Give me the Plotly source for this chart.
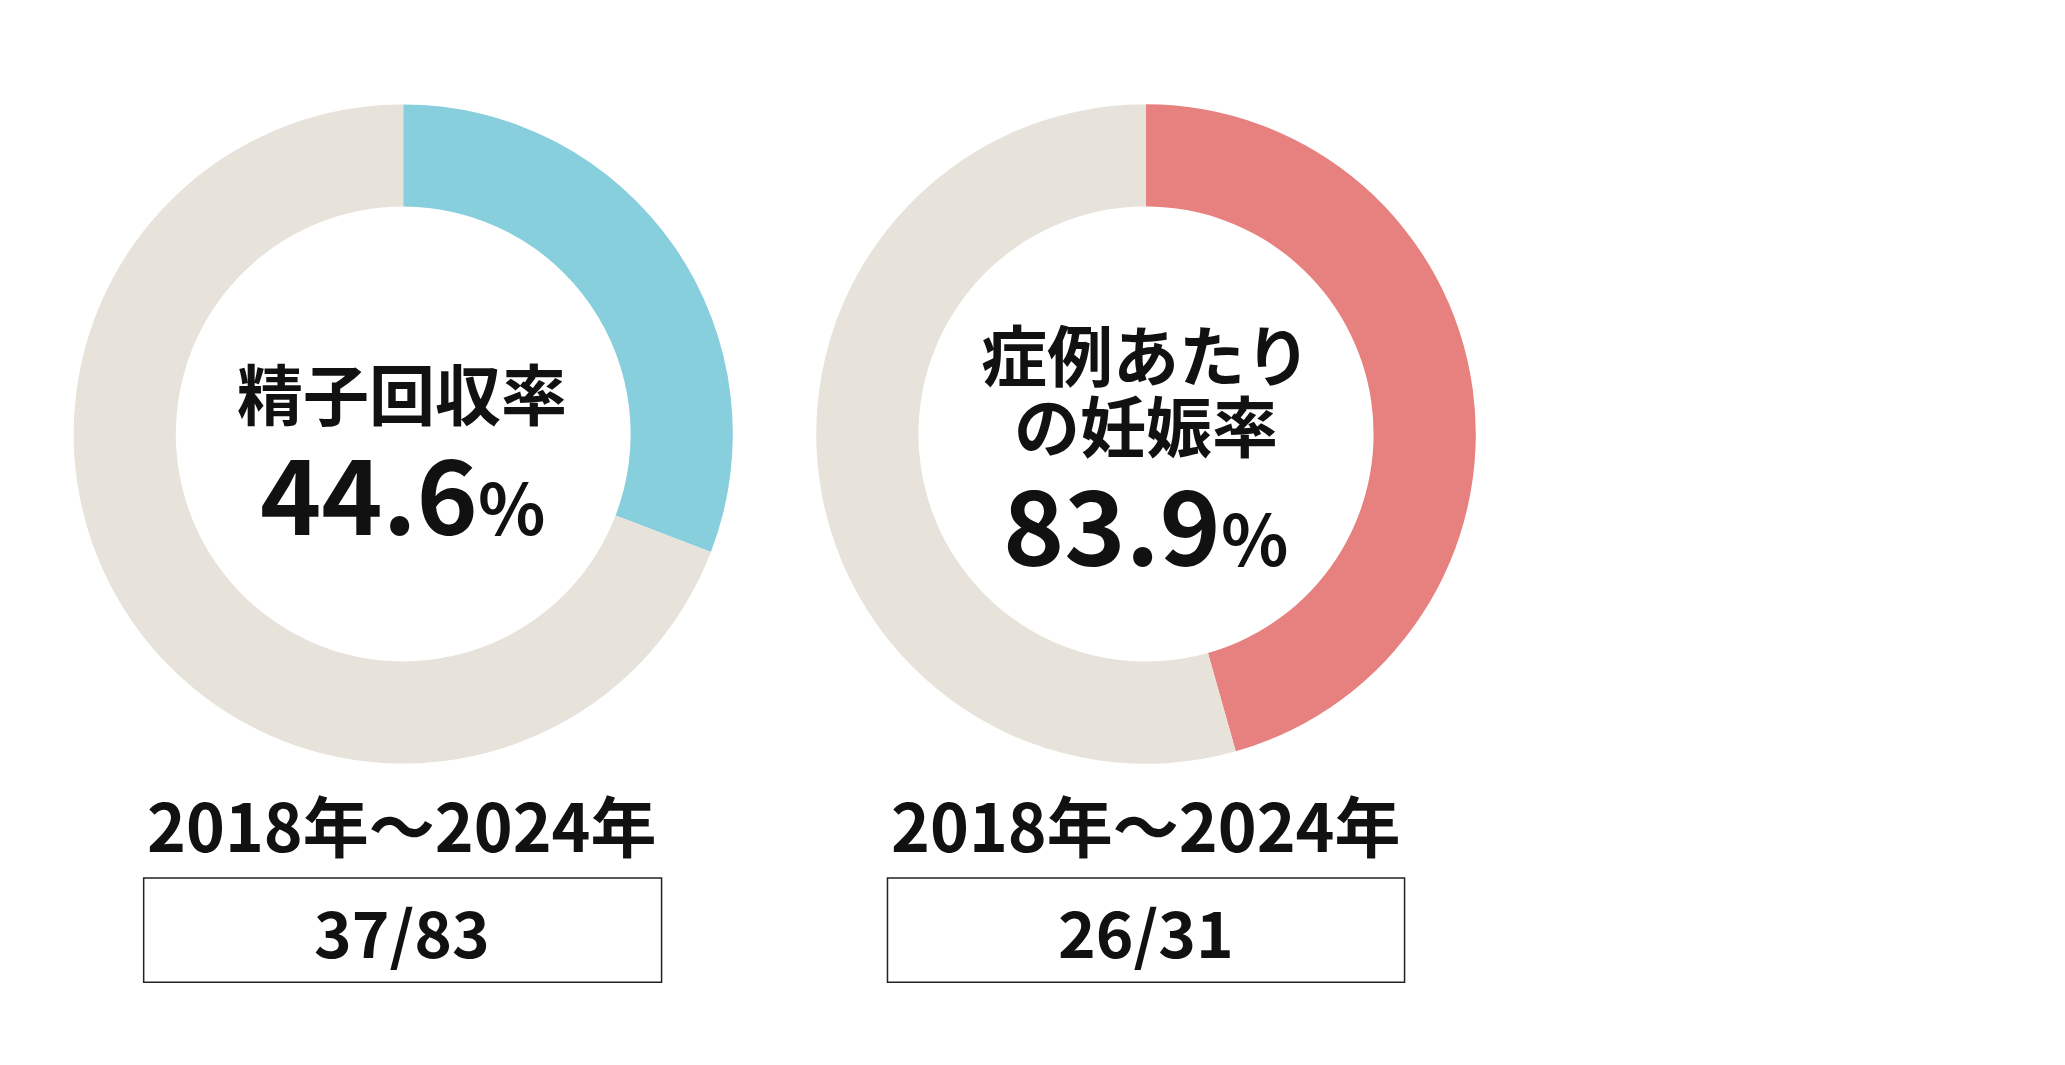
import plotly.graph_objects as go

# sperm retrieval: retrieved / not retrieved
sperm_values = [37, 83]
# pregnancy per case: pregnant / not
preg_values = [26, 31]
period_label = "2018年～2024年"
sperm_title = "精子回収率"
sperm_rate = "44.6"
preg_title = ["症例あたり", "の妊娠率"]
preg_rate = "83.9"
sperm_ratio = "37/83"
preg_ratio = "26/31"

FONT = "Noto Sans CJK JP"
GREY = "#E7E3DA"

fig = go.Figure()
fig.add_trace(go.Pie(
    values=sperm_values, hole=0.69, sort=False, direction="clockwise", rotation=0,
    marker=dict(colors=["#88CFDD", GREY]), textinfo="none", hoverinfo="skip",
    domain=dict(x=[0.0318, 0.351], y=[0.290, 0.910]),
))
fig.add_trace(go.Pie(
    values=preg_values, hole=0.69, sort=False, direction="clockwise", rotation=0,
    marker=dict(colors=["#E6817F", GREY]), textinfo="none", hoverinfo="skip",
    domain=dict(x=[0.3914, 0.7108], y=[0.290, 0.910]),
))

ann = []


def text(x, y, s, size):
    ann.append(dict(x=x, y=y, xref="paper", yref="paper", text=s, showarrow=False,
                    xanchor="center", yanchor="middle",
                    font=dict(family=FONT, size=size, color="#111111")))


text(0.191, 0.640, "<b>" + sperm_title + "</b>", 66)
text(0.191, 0.548, f"<b>{sperm_rate}<span style='font-size:70px'>%</span></b>", 104)
text(0.551, 0.677, "<b>" + preg_title[0] + "</b>", 66)
text(0.551, 0.610, "<b>" + preg_title[1] + "</b>", 66)
text(0.551, 0.519, f"<b>{preg_rate}<span style='font-size:70px'>%</span></b>", 104)
for cx, ratio in [(0.191, sperm_ratio), (0.551, preg_ratio)]:
    text(cx, 0.235, "<b>" + period_label + "</b>", 66)
    text(cx, 0.1346, "<b>" + ratio + "</b>", 64)

shapes = [
    dict(type="rect", xref="paper", yref="paper", x0=x0, x1=x1, y0=0.0853, y1=0.183,
         line=dict(color="#222222", width=1.5))
    for x0, x1 in [(0.0657, 0.3165), (0.4259, 0.6763)]
]

fig.update_layout(
    width=2065, height=1065, showlegend=False,
    margin=dict(l=0, r=0, t=0, b=0),
    paper_bgcolor="white", plot_bgcolor="white",
    annotations=ann, shapes=shapes,
)
fig.write_html("out.html")
